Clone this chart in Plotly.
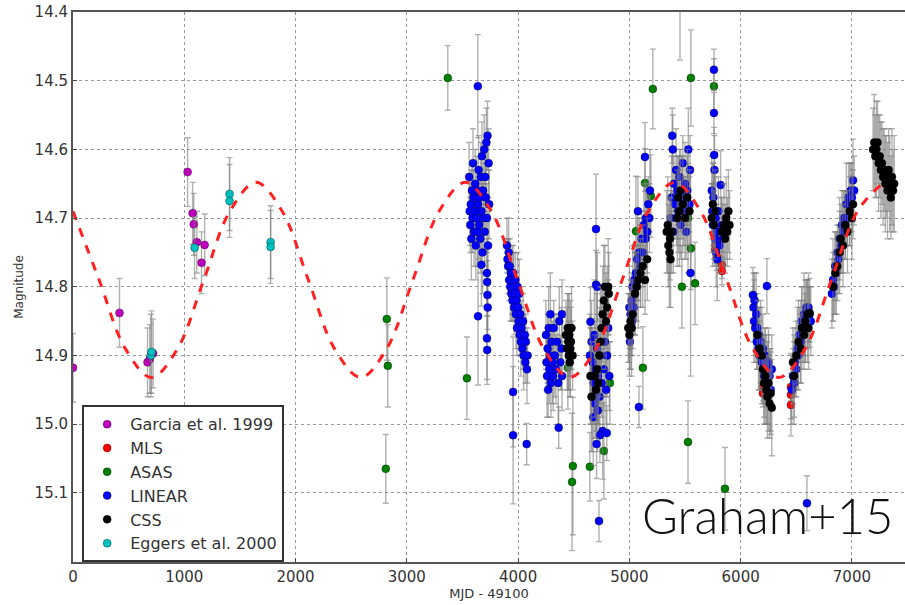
import plotly.graph_objects as go

# ---------------- data ----------------
garcia_x = [0, 418, 670, 690, 720, 1030, 1075, 1085, 1113, 1155, 1183]
garcia_y = [14.918, 14.838, 14.91, 14.905, 14.897, 14.633, 14.693, 14.709, 14.735, 14.765, 14.739]
garcia_e = [0.05, 0.05, 0.05, 0.05, 0.05, 0.05, 0.045, 0.045, 0.045, 0.045, 0.045]

mls_x = [5769, 5787, 5832, 5832, 5775, 6200, 6200, 6452, 6452, 6452]
mls_y = [14.746, 14.756, 14.768, 14.777, 14.738, 14.946, 14.955, 14.946, 14.957, 14.972]
mls_e = [0.02, 0.02, 0.02, 0.02, 0.02, 0.02, 0.02, 0.02, 0.06, 0.02]

asas_x = [2820, 2829, 2811, 3368, 3540, 4447, 4492, 4485, 4645, 4771, 4825, 5059, 5141, 5193,
          5211, 5472, 5527, 5553, 5553, 5590, 5760, 5121, 5527, 5859]
asas_y = [14.847, 14.915, 15.065, 14.496, 14.933, 14.918, 15.061, 15.084, 15.062, 15.039, 14.94,
          14.719, 14.649, 14.668, 14.512, 14.80, 14.70, 14.496, 14.744, 14.795, 14.508, 14.918,
          15.026, 15.094]
asas_e = [0.06, 0.06, 0.05, 0.047, 0.06, 0.06, 0.1, 0.1, 0.05, 0.07, 0.06, 0.08, 0.05, 0.06,
          0.058, 0.06, 0.08, 0.07, 0.06, 0.06, 0.04, 0.06, 0.06, 0.06]

linear_x = [
    # peak ~3650
    3560, 3565, 3570, 3575, 3580, 3585, 3590, 3595, 3600, 3605, 3610, 3615, 3620, 3625, 3630,
    3635, 3638, 3640, 3645, 3650, 3655, 3660, 3665, 3670, 3675, 3680, 3685, 3690, 3695, 3700,
    3705, 3710, 3715, 3720, 3725, 3730, 3735, 3740,
    3640, 3670, 3720, 3722, 3725, 3727, 3720, 3722,
    # decline ~4000
    3900, 3905, 3910, 3915, 3920, 3925, 3930, 3935, 3940, 3945, 3950, 3955, 3960, 3965, 3970,
    3975, 3980, 3985, 3990, 3995, 4000, 4005, 4010, 4015, 4020, 4025, 4030, 4040, 4045, 4050,
    4060, 4065, 4070, 4080, 4085, 3955, 3955, 4077,
    # minimum ~4300
    4250, 4255, 4260, 4265, 4270, 4275, 4280, 4285, 4290, 4295, 4300, 4310, 4315, 4320, 4330,
    4340, 4350, 4360, 4370, 4380, 4390, 4395, 4365, 4395,
    # ~4700
    4645, 4650, 4655, 4660, 4665, 4670, 4675, 4680, 4685, 4690, 4695, 4700, 4705, 4710, 4715,
    4720, 4727, 4730, 4740, 4750, 4760, 4770, 4780, 4790, 4800, 4810, 4820, 4700, 4700, 4712,
    4735, 4797,
    # rise ~5100
    4995, 5000, 5005, 5010, 5015, 5020, 5025, 5030, 5040, 5045, 5050, 5060, 5065, 5070, 5077,
    5080, 5090, 5100, 5110, 5120, 5130, 5140, 5145, 5150, 5160, 5170, 5180, 5185, 5086,
    # peak ~5450
    5370, 5380, 5385, 5390, 5395, 5400, 5410, 5420, 5425, 5430, 5440, 5450, 5460, 5470, 5480,
    5490, 5500, 5510, 5520, 5530, 5540, 5545, 5455, 5550,
    # ~5780
    5760, 5760, 5762, 5765, 5740, 5745, 5750, 5755, 5770, 5775, 5780, 5785, 5790, 5800, 5810,
    5820, 5830, 5840,
    # decline ~6200
    6110, 6115, 6120, 6125, 6130, 6140, 6145, 6150, 6160, 6165, 6170, 6180, 6190, 6200, 6210,
    6220, 6230, 6236, 6240, 6250, 6260, 6270, 6280,
    # rise ~6550
    6460, 6470, 6480, 6490, 6500, 6510, 6520, 6530, 6540, 6550, 6560, 6570, 6580, 6590, 6600,
    6610, 6620, 6630, 6596,
    # rise ~6900
    6820, 6830, 6840, 6850, 6860, 6870, 6880, 6890, 6900, 6910, 6920, 6930, 6940, 6950, 6960,
    6970, 6980, 6990, 7000, 7010, 7020,
]
linear_y = [
    14.64, 14.69, 14.71, 14.68, 14.73, 14.66, 14.70, 14.62, 14.67, 14.72, 14.69, 14.65, 14.74, 14.70, 14.66,
    14.72, 14.508, 14.68, 14.63, 14.71, 14.67, 14.73, 14.64, 14.69, 14.61, 14.75, 14.66, 14.70, 14.60, 14.72,
    14.64, 14.67, 14.59, 14.70, 14.58, 14.74, 14.62, 14.68,
    14.843, 14.768, 14.78, 14.793, 14.812, 14.83, 14.875, 14.892,
    14.74, 14.76, 14.77, 14.75, 14.79, 14.77, 14.80, 14.78, 14.81, 14.79, 14.82, 14.78, 14.80, 14.83, 14.81,
    14.79, 14.84, 14.82, 14.86, 14.80, 14.83, 14.85, 14.81, 14.87, 14.84, 14.88, 14.86, 14.89, 14.85, 14.90,
    14.87, 14.91, 14.88, 14.92, 14.90, 14.953, 15.016, 15.029,
    14.87, 14.91, 14.93, 14.89, 14.95, 14.86, 14.92, 14.90, 14.84, 14.94, 14.88, 14.91, 14.93, 14.86, 14.90,
    14.92, 14.88, 14.94, 14.85, 14.91, 14.89, 14.93, 15.005, 14.84,
    14.90, 14.851, 14.93, 14.88, 14.96, 14.91, 14.99, 14.94, 14.87, 14.97, 14.92, 14.95, 15.029, 14.89, 14.98,
    14.93, 15.141, 14.96, 14.90, 14.94, 15.01, 14.92, 14.88, 14.95, 14.90, 14.86, 14.93, 14.716, 14.797, 14.80,
    15.016, 15.013,
    14.86, 14.83, 14.88, 14.84, 14.86, 14.82, 14.85, 14.80, 14.83, 14.79, 14.81, 14.78, 14.80, 14.76, 14.69,
    14.78, 14.75, 14.77, 14.73, 14.75, 14.71, 14.611, 14.73, 14.70, 14.72, 14.68, 14.70, 14.66, 14.975,
    14.70, 14.67, 14.58, 14.60, 14.72, 14.65, 14.68, 14.63, 14.70, 14.66, 14.69, 14.64, 14.71, 14.67, 14.62,
    14.69, 14.65, 14.72, 14.66, 14.60, 14.68, 14.63, 14.38, 14.78,
    14.484, 14.547, 14.608, 14.63, 14.66, 14.69, 14.71, 14.67, 14.73, 14.70, 14.75, 14.72, 14.76, 14.69, 14.74,
    14.652, 14.71, 14.73,
    14.812, 14.83, 14.85, 14.82, 14.86, 14.84, 14.88, 14.86, 14.89, 14.87, 14.90, 14.88, 14.91, 14.89, 14.93,
    14.90, 14.92, 14.799, 14.94, 14.91, 14.93, 14.95, 14.92,
    14.95, 14.93, 14.94, 14.91, 14.92, 14.89, 14.90, 14.87, 14.88, 14.85, 14.87, 14.84, 14.86, 14.83, 14.85,
    14.83, 14.84, 14.85, 15.115,
    14.81, 14.79, 14.80, 14.77, 14.78, 14.75, 14.76, 14.73, 14.74, 14.71, 14.72, 14.70, 14.71, 14.68, 14.70,
    14.67, 14.68, 14.66, 14.67, 14.645, 14.66,
]
linear_e = [
    0.05, 0.05, 0.04, 0.05, 0.06, 0.04, 0.05, 0.05, 0.04, 0.05, 0.04, 0.05, 0.05, 0.04, 0.05,
    0.05, 0.075, 0.04, 0.05, 0.05, 0.04, 0.05, 0.05, 0.04, 0.05, 0.06, 0.04, 0.05, 0.05, 0.05,
    0.04, 0.05, 0.05, 0.05, 0.05, 0.05, 0.05, 0.05,
    0.10, 0.06, 0.05, 0.05, 0.05, 0.05, 0.06, 0.05,
    0.04, 0.03, 0.04, 0.05, 0.03, 0.04, 0.05, 0.03, 0.04, 0.05, 0.03, 0.04, 0.05, 0.04, 0.03,
    0.04, 0.05, 0.03, 0.04, 0.05, 0.03, 0.04, 0.05, 0.03, 0.04, 0.05, 0.04, 0.03, 0.04, 0.05,
    0.04, 0.03, 0.04, 0.05, 0.04, 0.08, 0.10, 0.03,
    0.05, 0.04, 0.06, 0.05, 0.04, 0.06, 0.05, 0.04, 0.06, 0.05, 0.04, 0.06, 0.05, 0.04, 0.06,
    0.05, 0.04, 0.06, 0.05, 0.04, 0.06, 0.05, 0.03, 0.05,
    0.06, 0.05, 0.07, 0.06, 0.08, 0.05, 0.07, 0.06, 0.08, 0.05, 0.07, 0.06, 0.05, 0.08, 0.06,
    0.07, 0.03, 0.06, 0.08, 0.05, 0.07, 0.06, 0.08, 0.05, 0.06, 0.07, 0.05, 0.08, 0.05, 0.05,
    0.04, 0.04,
    0.05, 0.06, 0.04, 0.05, 0.06, 0.04, 0.05, 0.06, 0.04, 0.05, 0.06, 0.04, 0.05, 0.06, 0.05,
    0.04, 0.05, 0.06, 0.04, 0.05, 0.06, 0.05, 0.04, 0.05, 0.06, 0.04, 0.05, 0.06, 0.03,
    0.05, 0.06, 0.04, 0.05, 0.06, 0.04, 0.05, 0.06, 0.04, 0.05, 0.06, 0.04, 0.05, 0.06, 0.04,
    0.05, 0.06, 0.04, 0.05, 0.06, 0.04, 0.05, 0.09, 0.15,
    0.03, 0.03, 0.04, 0.05, 0.05, 0.04, 0.06, 0.05, 0.04, 0.06, 0.05, 0.04, 0.06, 0.05, 0.04,
    0.05, 0.04, 0.05,
    0.04, 0.05, 0.06, 0.04, 0.05, 0.06, 0.04, 0.05, 0.06, 0.04, 0.05, 0.06, 0.04, 0.05, 0.06,
    0.04, 0.05, 0.04, 0.06, 0.05, 0.04, 0.06, 0.05,
    0.05, 0.04, 0.06, 0.05, 0.04, 0.06, 0.05, 0.04, 0.06, 0.05, 0.04, 0.06, 0.05, 0.04, 0.06,
    0.05, 0.04, 0.05, 0.04,
    0.05, 0.06, 0.04, 0.05, 0.06, 0.04, 0.05, 0.06, 0.04, 0.05, 0.06, 0.04, 0.05, 0.06, 0.04,
    0.05, 0.06, 0.04, 0.05, 0.06, 0.05,
]

css_x = [
    4430, 4440, 4445, 4450, 4455, 4460, 4465, 4470, 4475, 4480, 4490,
    4650, 4660, 4690, 4700, 4710, 4720, 4730, 4740, 4750, 4760, 4770, 4780, 4790, 4800, 4810, 4815,
    4990, 5000, 5010, 5020, 5030, 5050, 5065, 5080, 5100, 5120, 5140, 5160,
    5335, 5345, 5350, 5360, 5365, 5370, 5380, 5430, 5440, 5450, 5460, 5480, 5500, 5520, 5540,
    5740, 5750, 5760, 5770, 5830, 5850, 5860, 5870, 5880, 5890, 5900,
    6150, 6170, 6190, 6200, 6210, 6220, 6230, 6240, 6250, 6260, 6270, 6280,
    6470, 6480, 6500, 6520, 6540, 6550, 6570, 6580, 6600, 6610, 6620,
    6830, 6850, 6870, 6890, 6900, 6920, 6940, 6960, 6980, 7000, 7010,
    7190, 7200, 7210, 7220, 7230, 7240, 7250, 7260, 7270, 7280, 7290, 7300, 7310, 7320, 7330,
    7340, 7350, 7360, 7370, 7380,
]
css_y = [
    14.87, 14.89, 14.86, 14.88, 14.90, 14.87, 14.91, 14.89, 14.88, 14.86, 14.90,
    14.93, 14.96, 14.93, 14.95, 14.92, 14.94, 14.90, 14.88, 14.86, 14.84, 14.82, 14.80, 14.85, 14.83, 14.80, 14.81,
    14.86, 14.87, 14.85, 14.86, 14.84, 14.81, 14.80, 14.79, 14.78, 14.77, 14.79, 14.76,
    14.72, 14.71, 14.74, 14.75, 14.73, 14.76, 14.72, 14.70, 14.67, 14.69, 14.66, 14.68, 14.70, 14.67, 14.69,
    14.70, 14.68, 14.71, 14.69, 14.72, 14.71, 14.73, 14.70, 14.72, 14.69, 14.71,
    14.87, 14.89, 14.90, 14.92, 14.94, 14.93, 14.95, 14.96, 14.94, 14.97, 14.955, 14.976,
    14.91, 14.93, 14.90, 14.88, 14.89, 14.86, 14.87, 14.85, 14.84, 14.86, 14.838,
    14.80, 14.78, 14.77, 14.75, 14.73, 14.74, 14.71, 14.72, 14.69, 14.70, 14.68,
    14.60, 14.59, 14.61, 14.60, 14.59, 14.62, 14.61, 14.63, 14.62, 14.64, 14.63, 14.65, 14.64, 14.66, 14.63,
    14.65, 14.67, 14.64, 14.66, 14.65,
]
css_e = [
    0.05, 0.06, 0.05, 0.07, 0.05, 0.06, 0.05, 0.07, 0.05, 0.06, 0.05,
    0.07, 0.08, 0.06, 0.07, 0.08, 0.06, 0.07, 0.08, 0.06, 0.07, 0.08, 0.06, 0.07, 0.06, 0.07, 0.06,
    0.05, 0.06, 0.05, 0.07, 0.05, 0.06, 0.05, 0.07, 0.05, 0.06, 0.05, 0.06,
    0.06, 0.07, 0.06, 0.08, 0.06, 0.07, 0.06, 0.07, 0.06, 0.08, 0.06, 0.07, 0.06, 0.07, 0.06,
    0.05, 0.06, 0.05, 0.06, 0.05, 0.06, 0.05, 0.06, 0.05, 0.06, 0.05,
    0.05, 0.06, 0.07, 0.05, 0.06, 0.07, 0.05, 0.06, 0.07, 0.05, 0.06, 0.07,
    0.05, 0.06, 0.05, 0.06, 0.05, 0.06, 0.05, 0.06, 0.05, 0.06, 0.05,
    0.05, 0.06, 0.05, 0.06, 0.05, 0.06, 0.05, 0.06, 0.05, 0.06, 0.05,
    0.06, 0.07, 0.06, 0.07, 0.06, 0.07, 0.06, 0.07, 0.06, 0.07, 0.06, 0.07, 0.06, 0.07, 0.06,
    0.07, 0.06, 0.07, 0.06, 0.07,
]

eggers_x = [700, 706, 1093, 1407, 1407, 1776, 1776]
eggers_y = [14.90, 14.895, 14.743, 14.665, 14.675, 14.735, 14.742]
eggers_e = [0.06, 0.06, 0.045, 0.053, 0.053, 0.053, 0.053]

# dashed sinusoidal model
model_x = [0, 235, 470, 705, 940, 1175, 1410, 1645, 1880, 2115, 2350, 2585, 2820, 3055, 3290,
           3525, 3760, 3995, 4230, 4465, 4700, 4935, 5170, 5405, 5640, 5875, 6110, 6345, 6580,
           6815, 7050, 7285]
model_y = [14.69, 14.79, 14.89, 14.932, 14.89, 14.79, 14.69, 14.648, 14.69, 14.79, 14.89, 14.932,
           14.89, 14.79, 14.69, 14.648, 14.69, 14.79, 14.89, 14.932, 14.89, 14.79, 14.69, 14.648,
           14.69, 14.79, 14.89, 14.932, 14.89, 14.79, 14.69, 14.648]

y_ticks = [14.4, 14.5, 14.6, 14.7, 14.8, 14.9, 15.0, 15.1]
y_tick_text = ["14.4", "14.5", "14.6", "14.7", "14.8", "14.9", "15.0", "15.1"]
x_ticks = [0, 1000, 2000, 3000, 4000, 5000, 6000, 7000]

series = [
    ("Garcia et al. 1999", garcia_x, garcia_y, garcia_e, "#bf00bf"),
    ("MLS", mls_x, mls_y, mls_e, "#ff0000"),
    ("ASAS", asas_x, asas_y, asas_e, "#008000"),
    ("LINEAR", linear_x, linear_y, linear_e, "#0000ff"),
    ("CSS", css_x, css_y, css_e, "#000000"),
    ("Eggers et al. 2000", eggers_x, eggers_y, eggers_e, "#00bfbf"),
]

FONT = "DejaVu Sans"
fig = go.Figure()

for i, (name, xs, ys, es, col) in enumerate(series):
    fig.add_trace(go.Scatter(
        x=xs, y=ys, mode="markers", name=name, legendgroup=f"g{i}",
        marker=dict(color=col, size=8, line=dict(color="rgba(0,0,0,0.55)", width=0.6)),
        error_y=dict(type="data", array=es, visible=True,
                     color="rgba(125,125,125,0.6)", thickness=1.4, width=3),
    ))

fig.add_trace(go.Scatter(
    x=model_x, y=model_y, mode="lines", showlegend=False,
    line=dict(color="#ff2020", width=3, dash="dash", shape="spline", smoothing=1.0),
))

fig.update_layout(
    width=905, height=605,
    margin=dict(l=73, r=0, t=12, b=43),
    paper_bgcolor="white", plot_bgcolor="white",
    font=dict(family=FONT, size=12, color="#222"),
    showlegend=True,
    legend=dict(
        x=0.011, y=0.285, xanchor="left", yanchor="top",
        bgcolor="white", bordercolor="#333", borderwidth=2,
        font=dict(family=FONT, size=16, color="#333"),
        tracegroupgap=0, itemwidth=36,
    ),
    xaxis=dict(
        range=[0, 7477], tickvals=x_ticks, ticks="inside", ticklen=4,
        showline=True, linecolor="#555", linewidth=2, mirror=True,
        showgrid=True, gridcolor="#9a9a9a", griddash="dot", gridwidth=1,
        zeroline=False,
        tickfont=dict(family=FONT, size=15, color="#333"),
        title=dict(text="MJD - 49100", font=dict(family=FONT, size=13, color="#333"), standoff=0),
    ),
    yaxis=dict(
        range=[15.2006, 14.4], tickvals=y_ticks, ticktext=y_tick_text,
        ticks="inside", ticklen=4,
        showline=True, linecolor="#555", linewidth=2, mirror=False,
        showgrid=True, gridcolor="#9a9a9a", griddash="dot", gridwidth=1,
        zeroline=False,
        tickfont=dict(family=FONT, size=15, color="#333"),
        title=dict(text="Magnitude", font=dict(family=FONT, size=12, color="#333"), standoff=8),
    ),
    annotations=[dict(
        text="Graham+15", xref="paper", yref="paper", x=0.988, y=0.03,
        xanchor="right", yanchor="bottom", showarrow=False,
        font=dict(family="Lato", size=49, color="#111", weight=300),
    )],
)

fig.write_html("out.html")
